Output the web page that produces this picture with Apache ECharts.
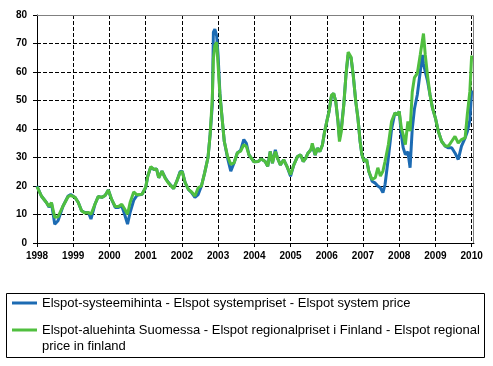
<!DOCTYPE html>
<html>
<head>
<meta charset="utf-8">
<script src="https://cdn.jsdelivr.net/npm/echarts@6/dist/echarts.min.js"></script>
<style>
html,body{margin:0;padding:0;background:#fff;}
#chart{width:493px;height:366px;}
</style>
</head>
<body>
<div id="chart"></div>
<script>
// Time in decimal years
const times = [
1998.00,1998.12,1998.26,1998.33,1998.40,1998.49,1998.58,1998.72,1998.86,1998.93,
1999.05,1999.14,1999.23,1999.32,1999.42,1999.49,1999.60,1999.69,1999.79,1999.88,1999.97,
2000.06,2000.16,2000.25,2000.34,2000.42,2000.50,2000.57,2000.67,2000.76,2000.90,
2001.00,2001.06,2001.14,2001.23,2001.30,2001.36,2001.45,2001.54,2001.63,2001.77,2001.86,2001.95,
2002.01,2002.09,2002.18,2002.27,2002.36,2002.45,2002.54,2002.63,2002.72,2002.78,2002.84,2002.87,2002.91,2002.96,
2003.00,2003.05,2003.11,2003.17,2003.26,2003.35,2003.44,2003.53,2003.62,2003.71,2003.78,2003.85,2003.99,
2004.11,2004.19,2004.30,2004.37,2004.44,2004.50,2004.58,2004.64,2004.72,2004.81,2004.90,
2005.00,2005.09,2005.19,2005.28,2005.35,2005.42,2005.48,2005.56,2005.60,2005.68,2005.74,2005.81,2005.88,2005.94,
2006.00,2006.06,2006.13,2006.19,2006.25,2006.31,2006.35,2006.40,2006.47,2006.53,2006.59,2006.67,2006.73,2006.80,2006.86,2006.92,2006.97,
2007.03,2007.10,2007.16,2007.25,2007.34,2007.41,2007.48,2007.55,2007.61,2007.70,2007.79,2007.88,2007.95,
2008.00,2008.06,2008.11,2008.17,2008.24,2008.30,2008.36,2008.42,2008.50,2008.58,2008.64,2008.67,2008.72,2008.78,2008.85,2008.92,
2009.00,2009.08,2009.17,2009.27,2009.36,2009.45,2009.54,2009.63,2009.72,2009.82,2009.88,2009.95,2010.00
];
// Elspot system price
const systemPrice = [
20,16.5,14.2,12.6,14,6.6,7.8,13,16.5,17,
16,14.2,11.3,10.7,10.7,8.4,13.6,16.3,16,16.7,18.6,
15.3,12.5,12.5,13,10,6.6,10.7,15,16.7,17.1,
19.4,23.5,26.6,25.8,26,22.9,25.2,22.9,21.2,19.1,21.7,25,
25.2,21.2,18.8,17.7,16,17,20,24.7,29.9,38,48.5,74,75,72.7,
65.8,52.5,43.8,35.7,29.9,25.2,28.1,31.6,32.5,36.3,35,31,28.5,
28.6,29.5,28.6,26.9,32.1,28,32.7,29.8,27.4,29.2,26.9,
23.4,27.4,30.3,30.9,28.6,29.8,31.5,32.7,34,30.9,33.3,32.1,34.4,39,
42.6,46,51.5,52.5,49.5,42.6,37,40,48.5,59,66,65,59,49.7,43.8,35.7,31,
28.7,29.3,25.2,21.7,21,20,19.4,17.7,20.6,29.9,40,45.6,45,
46.2,38,33.4,31,32,26.4,40,47,52,60,66,63,60,57,52,47.3,
43.8,39.2,35.7,34,33.4,33.4,31.6,29.3,34,36.9,39,43,53.5
];
// Elspot regional price in Finland
const finlandPrice = [
19.8,16.5,14.2,12.8,14.2,9,9.2,13,16.3,16.7,
16,14.2,11.3,10.5,10.7,10.1,13.6,16.3,16,16.7,18.6,
15.3,12.8,12.8,13.6,11.9,10.1,14.2,17.9,16.9,17.1,
19.6,23.5,26.8,25.8,26,22.9,25.2,22.7,21,19.1,21.7,24.7,
25,21.2,18.8,17.9,16.5,19.4,20,24.7,29.9,38,50.8,64.7,69.3,70.4,
62.3,51.9,43.8,35.7,30.5,27.6,28.1,31.6,32.2,34.5,33.9,31,28.5,
28.6,29.5,28.6,26.9,32.1,28,32.1,29.8,27.4,29.2,26.9,
24,27.4,30.3,30.9,28.6,29.8,31.5,32.7,35,30.9,33.3,32.1,34.4,39,
42.6,46,51.9,52.5,49.5,42.6,35.6,39,48.5,59,67,65.3,59,49.7,43.8,35.7,31,
28.7,29.3,25.2,22.3,22.9,26.4,23.5,25.2,28.7,34.5,42.7,45.6,45,
46.2,40.3,38,34.5,42.7,39.2,53,58,59.5,66,71,73.5,66,59,52,47.3,
43.8,39.2,35.7,34,34,35.7,37.4,35.1,36.3,36.9,45,53.1,65.8
];
const seriesNames = [
  'Elspot-systeemihinta - Elspot systempriset - Elspot system price',
  'Elspot-aluehinta Suomessa - Elspot regionalpriset i Finland - Elspot regional price in finland'
];
const legendLine2 = 'Elspot-aluehinta Suomessa - Elspot regionalpriset i Finland - Elspot regional';
const legendLine3 = 'price in finland';
const colors = ['#1c6bb3', '#50bf3f'];

const chart = echarts.init(document.getElementById('chart'), null, {renderer: 'canvas'});
const splitStyle = {color: '#000', width: 1, type: 'dashed', dashOffset: 0};
const labelFont = {fontFamily: 'Liberation Sans, Arial, sans-serif', fontWeight: 'bold', fontSize: 10, color: '#000'};
const legendFont = {fontFamily: 'Liberation Sans, Arial, sans-serif', fontSize: 13, color: '#000', lineHeight: 14};

chart.setOption({
  animation: false,
  backgroundColor: '#fff',
  grid: {left: 37, top: 15, width: 437, height: 228, show: false,
         containLabel: false, outerBoundsMode: 'none'},
  xAxis: {
    type: 'value', min: 1998, max: 2010.065, interval: 1,
    axisLine: {show: true, onZero: false, lineStyle: {color: '#000', width: 1}},
    axisTick: {show: true, length: 4, lineStyle: {color: '#000'}},
    axisLabel: Object.assign({margin: 8, showMaxLabel: false, formatter: v => Number.isInteger(v) ? String(v) : ''}, labelFont),
    splitLine: {show: true, showMinLine: false, showMaxLine: false, lineStyle: splitStyle}
  },
  yAxis: {
    type: 'value', min: 0, max: 80, interval: 10,
    axisLine: {show: true, lineStyle: {color: '#000', width: 1}},
    axisTick: {show: true, length: 4, lineStyle: {color: '#000'}},
    axisLabel: Object.assign({margin: 10}, labelFont),
    splitLine: {show: true, showMinLine: false, showMaxLine: false, lineStyle: splitStyle}
  },
  legend: [
    {data: [seriesNames[0]], left: 12, top: 296, padding: 0, itemWidth: 25, itemHeight: 3, icon: 'rect',
     textStyle: legendFont},
    {data: [seriesNames[1]], left: 12, top: 323, padding: 0, itemWidth: 25, itemHeight: 3, icon: 'rect',
     textStyle: legendFont, formatter: () => legendLine2}
  ],
  graphic: [
    {type: 'polyline', shape: {points: [[37, 15.5], [473.5, 15.5], [473.5, 243]]}, style: {fill: 'none', stroke: '#808080', lineWidth: 1}, silent: true, z: 100},
    {type: 'rect', shape: {x: 6.5, y: 293.5, width: 478, height: 64}, style: {fill: 'none', stroke: '#000', lineWidth: 1}, silent: true},
    {type: 'text', left: 42, top: 340, style: {text: legendLine3, font: '13px "Liberation Sans", Arial, sans-serif', fill: '#000'}, silent: true}
  ],
  series: [
    {name: seriesNames[0], type: 'line', showSymbol: false, symbol: 'none', color: colors[0],
     lineStyle: {width: 3, color: colors[0]}, data: times.map((t, i) => [t, systemPrice[i]])},
    {name: seriesNames[1], type: 'line', showSymbol: false, symbol: 'none', color: colors[1],
     lineStyle: {width: 3, color: colors[1]}, data: times.map((t, i) => [t, finlandPrice[i]])}
  ]
});
</script>
</body>
</html>
